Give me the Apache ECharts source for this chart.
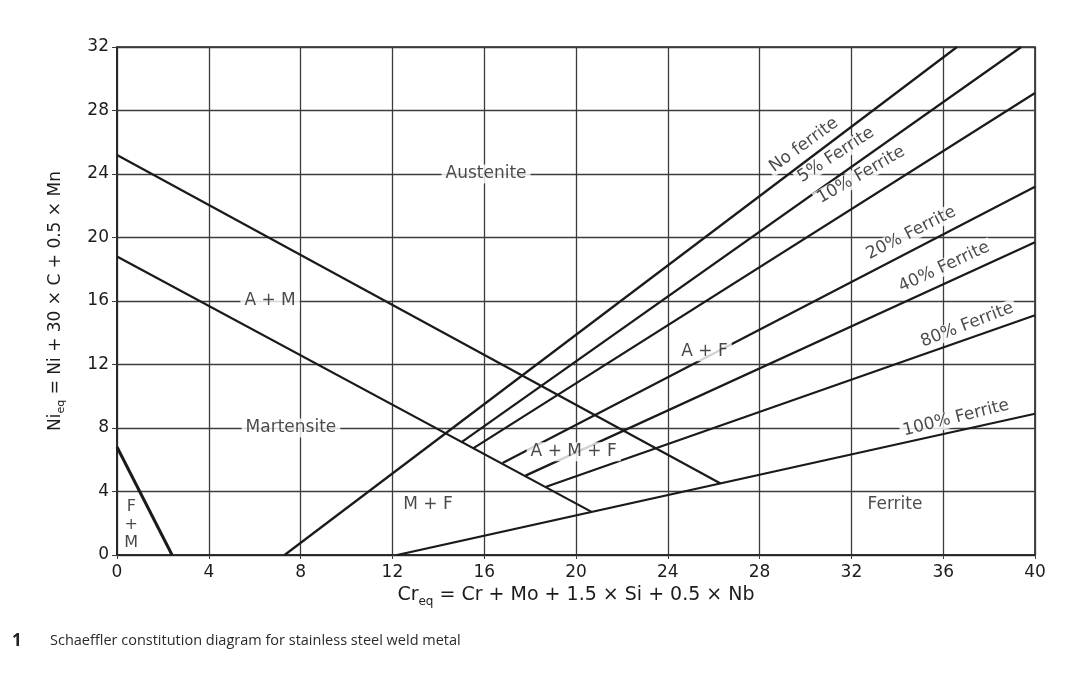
<!DOCTYPE html>
<html>
<head>
<meta charset="utf-8">
<script src="https://cdn.jsdelivr.net/npm/echarts@6/dist/echarts.min.js"></script>
<style>
html,body{margin:0;padding:0;background:#fff;}
#chart{width:1073px;height:675px;}
</style>
</head>
<body>
<div id="chart"></div>
<script>
// Boundary lines of the Schaeffler diagram: [Cr_eq, Ni_eq] end points
const austeniteBoundary = [[0, 25.2], [26.3, 4.5]];
const martensiteBoundary = [[0, 18.8], [20.7, 2.7]];
const fmBoundary = [[0, 6.8], [2.4, 0]];
const noFerrite = [[7.3, 0], [36.6, 32]];
const ferrite5 = [[15.0, 7.1], [39.4, 32]];
const ferrite10 = [[15.5, 6.7], [40, 29.1]];
const ferrite20 = [[16.8, 5.8], [40, 23.2]];
const ferrite40 = [[17.8, 5.0], [40, 19.7]];
const ferrite80 = [[18.7, 4.3], [40, 15.1]];
const ferrite100 = [[12.2, 0], [40, 8.9]];

// Region labels
const regionNames = ['Austenite', 'A + M', 'Martensite', 'A + M + F', 'A + F', 'M + F', 'Ferrite'];
const regionPos = [[16.08, 24], [6.67, 16], [7.58, 8], [19.9, 6.5], [25.6, 12.8], [13.55, 3.15], [33.9, 3.15]];
const fmName = 'F\n+\nM';
const fmPos = [0.62, 1.9];

// Ferrite line labels
const ferriteNames = ['No ferrite', '5% Ferrite', '10% Ferrite', '20% Ferrite', '40% Ferrite', '80% Ferrite', '100% Ferrite'];
const ferriteLabelPos = [[29.93, 25.83], [31.33, 25.2], [32.42, 23.94], [34.6, 20.28], [36.04, 18.14], [37.04, 14.49], [36.56, 8.63]];
const ferriteLabelAngle = [36, 33, 30, 27, 25, 21, 14];

const chart = echarts.init(document.getElementById('chart'));
const lineColor = '#1a1a1a';
const gridColor = '#3c3c3c';
const textColor = '#1c1c1c';
const FONT = 'DejaVu Sans';

function boundary(data, width) {
  return {
    type: 'line', data: data, symbol: 'none', silent: true,
    lineStyle: { color: lineColor, width: width || 2.2 }, z: 3
  };
}

const series = [
  boundary(austeniteBoundary), boundary(martensiteBoundary), boundary(fmBoundary, 3),
  boundary(noFerrite), boundary(ferrite5), boundary(ferrite10), boundary(ferrite20),
  boundary(ferrite40), boundary(ferrite80), boundary(ferrite100),
  {
    type: 'scatter', symbolSize: 0, z: 5, silent: true,
    data: regionPos.map((p, i) => ({ value: p, name: regionNames[i] })),
    label: {
      show: true, position: 'inside', formatter: '{b}', color: textColor,
      fontFamily: FONT, fontSize: 17, backgroundColor: '#fff', padding: [1, 4]
    }
  },
  {
    type: 'scatter', symbolSize: 0, z: 5, silent: true,
    data: [{ value: fmPos, name: fmName }],
    label: {
      show: true, position: 'inside', formatter: '{b}', color: textColor,
      fontFamily: FONT, fontSize: 16, lineHeight: 18
    }
  },
  {
    type: 'scatter', symbolSize: 0, z: 5, silent: true,
    data: ferriteLabelPos.map((p, i) => ({ value: p, name: ferriteNames[i], label: { rotate: ferriteLabelAngle[i] } })),
    label: {
      show: true, position: 'inside', formatter: '{b}', color: textColor,
      fontFamily: FONT, fontSize: 17, backgroundColor: '#fff', padding: [0, 3]
    }
  }
];

chart.setOption({
  backgroundColor: '#fff',
  animation: false,
  grid: { left: 117, right: 38, top: 47, bottom: 120, show: true, borderColor: '#222', borderWidth: 1.6 },
  xAxis: {
    type: 'value', min: 0, max: 40, interval: 4,
    name: '{a|Cr}{s|eq}{a| = Cr + Mo + 1.5 × Si + 0.5 × Nb}',
    nameLocation: 'middle', nameGap: 28,
    nameTextStyle: {
      rich: {
        a: { fontFamily: FONT, fontSize: 19, color: textColor, lineHeight: 24 },
        s: { fontFamily: FONT, fontSize: 12, color: textColor, lineHeight: 12, verticalAlign: 'bottom' }
      }
    },
    axisLine: { show: true, lineStyle: { color: '#222', width: 1.6 } },
    axisTick: { show: true, length: 4, lineStyle: { color: gridColor } },
    axisLabel: { fontFamily: FONT, fontSize: 17, color: textColor, margin: 9 },
    splitLine: { show: true, lineStyle: { color: gridColor, width: 1.3 } }
  },
  yAxis: {
    type: 'value', min: 0, max: 32, interval: 4,
    name: '{a|Ni}{s|eq}{a| = Ni + 30 × C + 0.5 × Mn}',
    nameLocation: 'middle', nameGap: 50, nameRotate: 90,
    nameTextStyle: {
      rich: {
        a: { fontFamily: FONT, fontSize: 17, color: textColor, lineHeight: 22 },
        s: { fontFamily: FONT, fontSize: 11, color: textColor, lineHeight: 12, verticalAlign: 'bottom' }
      }
    },
    axisLine: { show: true, lineStyle: { color: '#222', width: 1.6 } },
    axisTick: { show: true, length: 5, lineStyle: { color: gridColor } },
    axisLabel: { fontFamily: FONT, fontSize: 17, color: textColor, margin: 8 },
    splitLine: { show: true, lineStyle: { color: gridColor, width: 1.3 } }
  },
  graphic: [
    { type: 'text', left: 12, top: 633, style: { text: '1', font: 'bold 17px "Open Sans"', fill: '#222' } },
    { type: 'text', left: 50, top: 633, style: { text: 'Schaeffler constitution diagram for stainless steel weld metal', font: '14.5px "Open Sans"', fill: '#2a2a2a' } }
  ],
  series: series
});
</script>
</body>
</html>
